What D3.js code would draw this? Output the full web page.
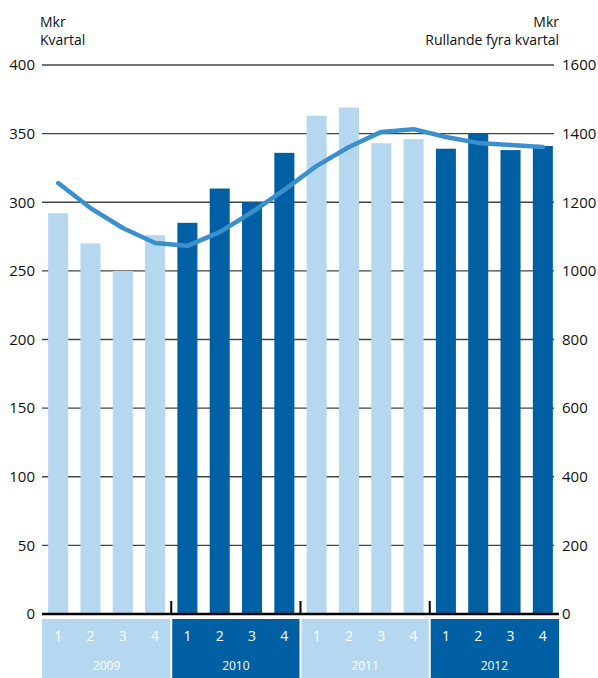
<!DOCTYPE html>
<html>
<head>
<meta charset="utf-8">
<script src="https://cdn.jsdelivr.net/npm/d3@7"></script>
<style>
  body { margin: 0; background: #fff; }
  svg { font-family: "Open Sans", "DejaVu Sans", sans-serif; }
</style>
</head>
<body>
<svg width="598" height="678"></svg>
<script>
// data
var years = ["2009", "2010", "2011", "2012"];
var quarters = ["1", "2", "3", "4"];
var kvartal = [292, 270, 250, 276, 285, 310, 300, 336, 363, 369, 343, 346, 339, 350, 338, 341];
var rullande = [1256, 1183, 1125, 1081, 1073, 1113, 1171, 1236, 1306, 1361, 1405, 1413, 1390, 1373, 1367, 1361];
var leftTicks = [0, 50, 100, 150, 200, 250, 300, 350, 400];
var rightTicks = [0, 200, 400, 600, 800, 1000, 1200, 1400, 1600];

var light = "#b5d7f0", dark = "#0060a3";

var svg = d3.select("svg");
var keys = [];
years.forEach(function(y) { quarters.forEach(function(q) { keys.push(y + "-" + q); }); });

var x = d3.scaleBand().domain(keys).range([42, 559]).paddingInner(0.38).paddingOuter(0.19);
var xYear = d3.scaleBand().domain(years).range([42, 559]);
var yL = d3.scaleLinear().domain([0, 400]).range([614, 65]);
var yR = d3.scaleLinear().domain([0, 1600]).range([614, 65]);

function col(i) { return Math.floor(i / 4) % 2 == 0 ? light : dark; }

// gridlines
svg.append("g").selectAll("line").data(leftTicks.slice(1)).enter().append("line")
  .attr("x1", 42).attr("x2", 554)
  .attr("y1", function(d) { return yL(d); }).attr("y2", function(d) { return yL(d); })
  .attr("stroke", "#444").attr("stroke-width", 1.4);

// bars
svg.append("g").selectAll("rect").data(kvartal).enter().append("rect")
  .attr("x", function(d, i) { return x(keys[i]); })
  .attr("width", x.bandwidth())
  .attr("y", function(d) { return yL(d); })
  .attr("height", function(d) { return yL(0) - yL(d); })
  .attr("fill", function(d, i) { return col(i); });

// line
var line = d3.line()
  .x(function(d, i) { return x(keys[i]) + x.bandwidth() / 2; })
  .y(function(d) { return yR(d); });
svg.append("path").datum(rullande)
  .attr("d", line)
  .attr("fill", "none").attr("stroke", "#3a90cd").attr("stroke-width", 4.5)
  .attr("stroke-linecap", "round").attr("stroke-linejoin", "round");

// baseline + separators
svg.append("line").attr("x1", 42).attr("x2", 559).attr("y1", 614).attr("y2", 614)
  .attr("stroke", "#000").attr("stroke-width", 2.5);
svg.append("g").selectAll("line").data(years.slice(1)).enter().append("line")
  .attr("x1", function(d) { return xYear(d); }).attr("x2", function(d) { return xYear(d); })
  .attr("y1", 601).attr("y2", 614)
  .attr("stroke", "#000").attr("stroke-width", 2);

// year bands
svg.append("g").selectAll("rect").data(years).enter().append("rect")
  .attr("x", function(d, i) { return xYear(d) + (i > 0 ? 1 : 0); })
  .attr("width", function(d, i) { return xYear.bandwidth() - (i > 0 ? 1 : 0) - (i < 3 ? 1 : 0); })
  .attr("y", 619).attr("height", 59)
  .attr("fill", function(d, i) { return i % 2 == 0 ? light : dark; });

svg.append("g").selectAll("text").data(keys).enter().append("text")
  .attr("x", function(d) { return x(d) + x.bandwidth() / 2; })
  .attr("y", 641)
  .attr("text-anchor", "middle").attr("font-size", 14).attr("fill", "#fff")
  .text(function(d) { return d.split("-")[1]; });

svg.append("g").selectAll("text").data(years).enter().append("text")
  .attr("x", function(d) { return xYear(d) + xYear.bandwidth() / 2; })
  .attr("y", 670)
  .attr("text-anchor", "middle").attr("font-size", 12).attr("fill", "#fff")
  .text(function(d) { return d; });

// axis labels
svg.append("g").selectAll("text").data(leftTicks).enter().append("text")
  .attr("x", 35).attr("y", function(d) { return yL(d); }).attr("dy", "0.35em")
  .attr("text-anchor", "end").attr("font-size", 15).attr("fill", "#111")
  .text(function(d) { return d; });
svg.append("g").selectAll("text").data(rightTicks).enter().append("text")
  .attr("x", 562).attr("y", function(d) { return yR(d); }).attr("dy", "0.35em")
  .attr("text-anchor", "start").attr("font-size", 15).attr("fill", "#111")
  .text(function(d) { return d; });

// titles
svg.append("text").attr("x", 40).attr("y", 27).attr("font-size", 14).attr("fill", "#111").text("Mkr");
svg.append("text").attr("x", 40).attr("y", 45).attr("font-size", 14).attr("fill", "#111").text("Kvartal");
svg.append("text").attr("x", 559).attr("y", 27).attr("text-anchor", "end").attr("font-size", 14).attr("fill", "#111").text("Mkr");
svg.append("text").attr("x", 559).attr("y", 45).attr("text-anchor", "end").attr("font-size", 14).attr("fill", "#111").text("Rullande fyra kvartal");
</script>
</body>
</html>
